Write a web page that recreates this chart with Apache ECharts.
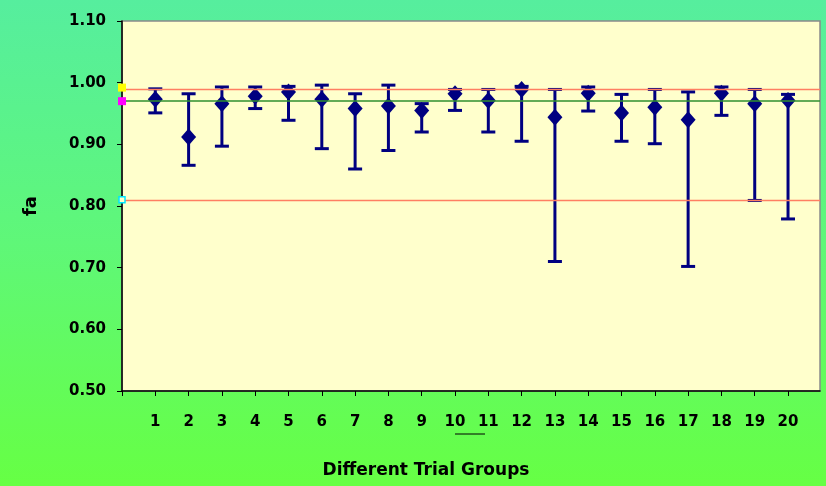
<!DOCTYPE html>
<html><head><meta charset="utf-8">
<script src="https://cdn.jsdelivr.net/npm/echarts@6/dist/echarts.min.js"></script>
<style>html,body{margin:0;padding:0;}#c{width:826px;height:486px;}</style>
</head><body><div id="c"></div>
<script>
const groups = [1,2,3,4,5,6,7,8,9,10,11,12,13,14,15,16,17,18,19,20];
const meanFa = [0.973,0.912,0.966,0.978,0.985,0.973,0.958,0.962,0.955,0.982,0.971,0.989,0.944,0.983,0.951,0.960,0.940,0.983,0.966,0.971];
const upperFa = [0.990,0.982,0.993,0.993,0.994,0.996,0.982,0.996,0.966,0.989,0.989,0.994,0.989,0.993,0.981,0.989,0.985,0.993,0.989,0.981];
const lowerFa = [0.951,0.866,0.897,0.958,0.939,0.893,0.860,0.890,0.920,0.955,0.920,0.905,0.710,0.954,0.905,0.901,0.702,0.947,0.809,0.779];
const refUpper = 0.992;
const refMean = 0.970;
const refLower = 0.810;
const yTicks = [0.5,0.6,0.7,0.8,0.9,1.0,1.1];

const FONT = 'DejaVu Sans';
const chart = echarts.init(document.getElementById('c'));
const errData = groups.map((g,i)=>[g, lowerFa[i], upperFa[i]]);
const xTickVals = [0].concat(groups);
chart.setOption({
  animation:false,
  backgroundColor:{type:'linear',x:0,y:0,x2:0,y2:1,colorStops:[{offset:0,color:'#56ee9e'},{offset:0.5,color:'#5ff778'},{offset:1,color:'#66ff44'}]},
  grid:{left:122,top:21,right:6,bottom:95,show:true,backgroundColor:'#ffffcc',borderColor:'#8a8a8a',borderWidth:1.5},
  xAxis:{type:'value',min:0,max:20.96,interval:1,
    axisLine:{show:true,onZero:false,lineStyle:{color:'#000',width:1.5}},
    axisTick:{show:true,length:5,customValues:xTickVals,lineStyle:{color:'#000',width:1}},
    splitLine:{show:false},
    axisLabel:{margin:24,color:'#000',fontFamily:FONT,fontWeight:'bold',fontSize:15,customValues:groups,
      formatter:v=> String(v)}
  },
  yAxis:{type:'value',min:yTicks[0],max:yTicks[yTicks.length-1],interval:0.1,
    name:'fa',nameLocation:'middle',nameGap:82,
    nameTextStyle:{color:'#000',fontFamily:FONT,fontWeight:'bold',fontSize:18},
    axisLine:{show:true,lineStyle:{color:'#000',width:1.5}},
    axisTick:{show:true,length:5,lineStyle:{color:'#000',width:1}},
    splitLine:{show:false},
    axisLabel:{margin:16,color:'#000',fontFamily:FONT,fontWeight:'bold',fontSize:15,formatter:v=>v.toFixed(2)}
  },
  series:[
    {type:'line',data:[],silent:true,
      markLine:{symbol:'none',silent:true,label:{show:false},
        data:[
          {yAxis:refUpper,lineStyle:{color:'#ff7f62',width:1.3,type:'solid'}},
          {yAxis:refMean,lineStyle:{color:'#2f8f2f',width:1.5,type:'solid'}},
          {yAxis:refLower,lineStyle:{color:'#ff7f62',width:1.3,type:'solid'}}
        ]}},
    {type:'custom',data:errData,z:3,
      renderItem:function(params,api){
        const x=api.value(0);
        const lo=api.coord([x,api.value(1)]);
        const hi=api.coord([x,api.value(2)]);
        const hw=7;
        const st={stroke:'#000080',lineWidth:3};
        return {type:'group',children:[
          {type:'line',shape:{x1:hi[0],y1:hi[1],x2:lo[0],y2:lo[1]},style:st},
          {type:'line',shape:{x1:hi[0]-hw,y1:hi[1],x2:hi[0]+hw,y2:hi[1]},style:st},
          {type:'line',shape:{x1:lo[0]-hw,y1:lo[1],x2:lo[0]+hw,y2:lo[1]},style:st}
        ]};
      }},
    {type:'scatter',data:groups.map((g,i)=>[g,meanFa[i]]),symbol:'diamond',symbolSize:[15,17],z:4,
      itemStyle:{color:'#000080',opacity:1}},
    {type:'scatter',clip:false,data:[[0,refUpper]],symbol:'rect',symbolSize:8,z:5,itemStyle:{color:'#ffff00',opacity:1}},
    {type:'scatter',clip:false,data:[[0,refMean]],symbol:'rect',symbolSize:8,z:5,itemStyle:{color:'#ff00ff',opacity:1}},
    {type:'scatter',clip:false,data:[[0,refLower]],symbol:'rect',symbolSize:6,z:5,itemStyle:{color:'#ffffcc',borderColor:'#00e5ff',borderWidth:1.5,opacity:1}}
  ],
  graphic:[
    {type:'text',x:426,y:471,style:{text:'Different Trial Groups',fill:'#000',font:'bold 17px "DejaVu Sans"',align:'center',verticalAlign:'middle'}},
    {type:'line',shape:{x1:455,y1:434,x2:485,y2:434},style:{stroke:'#000',lineWidth:1}}
  ]
});
</script></body></html>
